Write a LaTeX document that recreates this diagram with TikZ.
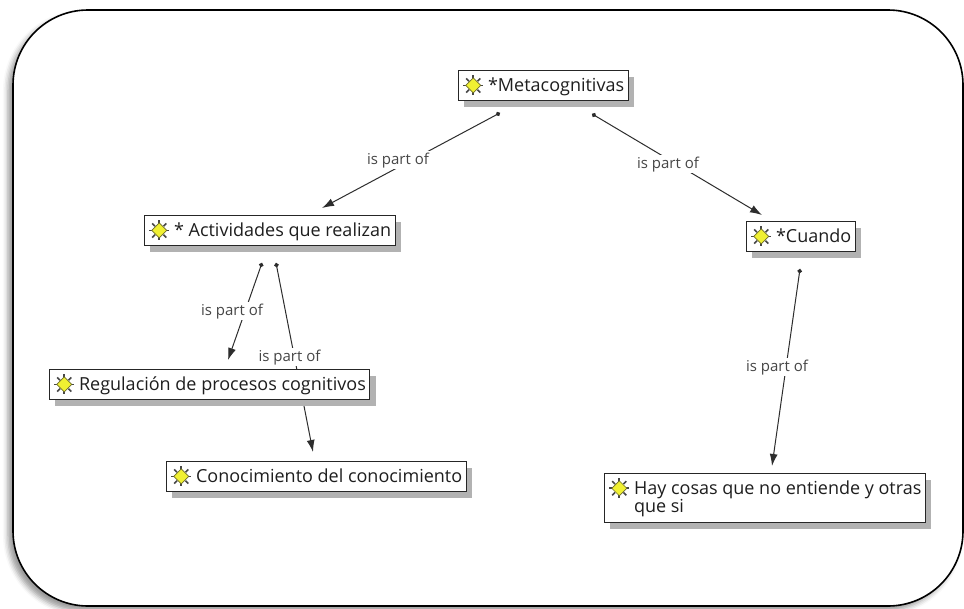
\documentclass[tikz,border=0pt]{standalone}
\usepackage{fontspec}
\setmainfont{Open Sans}
\usepackage{tikz}
\usetikzlibrary{arrows.meta, shadows, shadows.blur}
\definecolor{textdark}{RGB}{30, 30, 30}
\definecolor{linkgray}{RGB}{45, 45, 45}
\definecolor{labelgray}{RGB}{70, 70, 70}
\definecolor{iconyellow}{RGB}{240, 240, 50}
\definecolor{iconolive}{RGB}{110, 110, 40}
\newcommand{\nodefont}{\fontsize{18}{21}\selectfont}
\newcommand{\linkfont}{\fontsize{15}{17}\selectfont}
% small concept icon in front of each text
\newcommand{\conceptico}{\tikz[baseline=-0.6ex, x=1pt, y=1pt]{%
    \foreach \a in {0,45,...,315} \draw[gray!55!black, line width=1.6pt] (\a:6) -- (\a:10);
    \draw[fill=iconyellow, draw=iconolive, line width=0.7pt] (0,-7.5) -- (7.5,0) -- (0,7.5) -- (-7.5,0) -- cycle;}}

\begin{document}
\begin{tikzpicture}[
    x=1pt, y=-1pt,
    frame/.style={draw=black, line width=1.6pt, rounded corners=75pt, fill=white, blur shadow={shadow xshift=-5pt, shadow yshift=-5pt, shadow blur radius=5pt}},
    concept/.style={rectangle, draw=black!85, line width=0.9pt, fill=white, anchor=north west, minimum height=30pt, inner xsep=4pt, inner ysep=4pt, font=\nodefont, text=textdark, drop shadow={shadow xshift=6pt, shadow yshift=-7pt, fill=gray!60, opacity=1}},
    link/.style={draw=linkgray, line width=1pt, {Circle[length=4.5pt]}-{Latex[length=12pt, width=8pt]}},
    linklabel/.style={midway, fill=white, inner sep=1.5pt, font=\linkfont, text=labelgray, xshift=-9pt}
]
    \useasboundingbox (0,0) rectangle (964,608);
    \path[frame] (13,10) rectangle (963,606);

    % concepts
    \node[concept] (meta) at (458,70) {\conceptico\hspace{4pt}*Metacognitivas};
    \node[concept] (activ) at (144,215) {\conceptico\hspace{4pt}* Actividades que realizan};
    \node[concept] (cuando) at (746,221) {\conceptico\hspace{4pt}*Cuando};
    \node[concept] (hay) at (604,473) {\conceptico\hspace{4pt}\begin{tabular}[t]{@{}l@{}}Hay cosas que no entiende y otras\\[-3pt]que si\end{tabular}};
    \node[concept] (conoc) at (166,461) {\conceptico\hspace{4pt}Conocimiento del conocimiento};

    % this one runs behind Regulación
    \draw[link] ([shift={(132,17)}]activ.south west) -- node[linklabel, xshift=4pt] {is part of} ([shift={(147,-9)}]conoc.north west);

    \node[concept] (regul) at (49,369) {\conceptico\hspace{4pt}Regulación de procesos cognitivos};

    \draw[link] ([shift={(42,12)}]meta.south west) -- node[linklabel, xshift=-4pt] {is part of} ([shift={(178,-7)}]activ.north west);
    \draw[link] ([shift={(134,13)}]meta.south west) -- node[linklabel] {is part of} ([shift={(16,-6)}]cuando.north west);
    \draw[link] ([shift={(118,17)}]activ.south west) -- node[linklabel, xshift=-4pt] {is part of} ([shift={(179,-9)}]regul.north west);
    \draw[link] ([shift={(54,17)}]cuando.south west) -- node[linklabel] {is part of} ([shift={(168,-7)}]hay.north west);
\end{tikzpicture}
\end{document}
